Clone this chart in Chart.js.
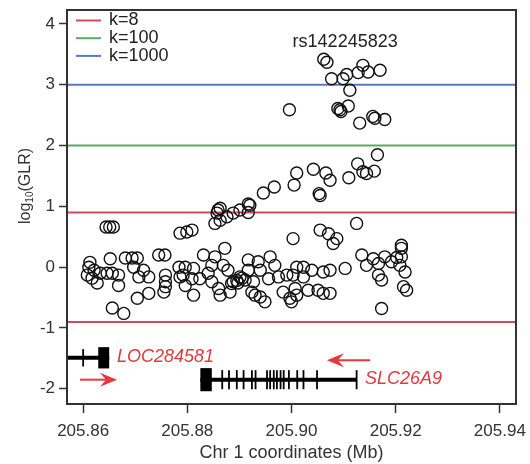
<!DOCTYPE html>
<html>
<head>
<meta charset="utf-8">
<script src="https://cdn.jsdelivr.net/npm/chart.js@4.4.1/dist/chart.umd.min.js"></script>
<style>
  html, body { margin: 0; padding: 0; background: #fff; }
</style>
</head>
<body>
<canvas id="glrChart" width="530" height="464"></canvas>
<script>
// SNP position on chr 1 (Mb) and log10(GLR)
const snpPos = [
  205.9062, 205.9068, 205.9137, 205.9170, 205.9147, 205.9128, 205.9106, 205.9077, 205.9099, 205.9112,
  205.8996, 205.9093, 205.9089, 205.9095, 205.9109, 205.9131, 205.9156, 205.9160, 205.9179, 205.9165,
  205.9127, 205.9137, 205.9144, 205.9159, 205.9110, 205.9042, 205.9066, 205.9074, 205.9010, 205.9005,
  205.9053, 205.8967, 205.8946, 205.8920, 205.8857, 205.8863, 205.8876, 205.8888, 205.8901, 205.8917,
  205.8917, 205.8859, 205.8863, 205.8853, 205.8799, 205.8809, 205.8644, 205.8658, 205.8651, 205.8786,
  205.9003, 205.9055, 205.9071, 205.9087, 205.9080, 205.9125, 205.9055, 205.9135, 205.9144, 205.9157,
  205.9167, 205.9179, 205.9192, 205.9211, 205.9211, 205.9208, 205.9218, 205.9167, 205.9173, 205.9215,
  205.9221, 205.9173, 205.9103, 205.9211, 205.9202, 205.9010, 205.9023, 205.9039, 205.9061, 205.9074,
  205.9003, 205.9023, 205.9032, 205.9051, 205.9074, 205.9061, 205.9010, 205.9000, 205.8997, 205.8984,
  205.9007, 205.8831, 205.8853, 205.8872, 205.8869, 205.8796, 205.8812, 205.8792, 205.8809, 205.8824,
  205.8840, 205.8847, 205.8860, 205.8863, 205.8882, 205.8812, 205.8885, 205.8901, 205.8917, 205.8936,
  205.8959, 205.8968, 205.8917, 205.8940, 205.8927, 205.8956, 205.8975, 205.8991, 205.8924, 205.8940,
  205.8949, 205.8930, 205.8897, 205.8911, 205.8847, 205.8878, 205.8888, 205.8895, 205.8905, 205.8652,
  205.8681, 205.8694, 205.8704, 205.8745, 205.8757, 205.8611, 205.8621, 205.8608, 205.8617, 205.8627,
  205.8633, 205.8646, 205.8656, 205.8668, 205.8668, 205.8697, 205.8716, 205.8707, 205.8726, 205.8704,
  205.8726, 205.8656, 205.8678, 205.8758, 205.8758, 205.8758, 205.8755, 205.8784, 205.8786, 205.8796,
  205.8613
];
const snpGlr = [
  3.42, 3.37, 3.32, 3.24, 3.21, 3.20, 3.17, 3.10, 3.10, 2.91,
  2.59, 2.59, 2.61, 2.56, 2.65, 2.37, 2.48, 2.45, 2.43, 1.85,
  1.70, 1.57, 1.54, 1.58, 1.47, 1.61, 1.55, 1.43, 1.55, 1.35,
  1.21, 1.32, 1.22, 1.02, 0.89, 0.97, 0.83, 0.89, 0.94, 1.04,
  0.90, 0.94, 0.77, 0.72, 0.58, 0.61, 0.66, 0.66, 0.66, 0.56,
  0.47, 0.61, 0.55, 0.47, 0.39, 0.72, 1.18, 0.20, 0.03, 0.14,
  0.06, 0.17, 0.09, 0.31, 0.17, 0.03, -0.08, -0.13, -0.21, -0.32,
  -0.38, -0.68, -0.02, 0.36, 0.16, 0.00, 0.00, -0.05, -0.08, -0.05,
  -0.13, -0.16, -0.38, -0.38, -0.43, -0.43, -0.46, -0.57, -0.51, -0.41,
  -0.35, 0.20, 0.17, 0.31, 0.03, 0.00, -0.02, -0.13, -0.19, -0.19,
  -0.10, -0.24, -0.35, -0.46, -0.41, -0.46, -0.27, -0.16, 0.12, 0.09,
  0.17, 0.03, -0.05, -0.05, -0.24, -0.19, -0.16, -0.13, -0.41, -0.49,
  -0.57, -0.46, -0.26, -0.21, 0.03, -0.05, -0.24, -0.22, -0.18, 0.14,
  0.15, 0.15, 0.15, 0.20, 0.20, 0.00, -0.05, -0.13, -0.18, -0.26,
  -0.10, -0.10, -0.10, -0.13, -0.30, 0.00, -0.05, -0.16, -0.16, -0.51,
  -0.43, -0.67, -0.76, -0.13, -0.24, -0.32, -0.41, 0.00, -0.16, -0.30,
  0.08
];

const xTicks = [205.86, 205.88, 205.90, 205.92, 205.94];
const yTicks = [-2, -1, 0, 1, 2, 3, 4];
const xMin = 205.8569, xMax = 205.9431;
const yMin = -2.25, yMax = 4.23;

// significance thresholds: log10(k)
const kLabels = ['k=8', 'k=100', 'k=1000'];
const kValues = [0.9, 2, 3];
const kColors = ['#cf4a5e', '#5fa765', '#5577cc'];

const topSnp = 'rs142245823';
const topSnpAt = [205.9103, 3.70];

// gene models
const geneNames = ['LOC284581', 'SLC26A9'];
const geneFrom = [205.8569, 205.8825];
const geneTo = [205.8650, 205.9125];
const geneRow = [-1.49, -1.85];
const geneBlocks = [[205.8629, 205.8650], [205.8825, 205.8847]];
const geneExons = [
  [205.8600],
  [205.8867, 205.8880, 205.8895, 205.8908, 205.8924, 205.8931, 205.8953, 205.8959, 205.8966,
   205.8972, 205.8979, 205.8985, 205.8995, 205.9011, 205.9023, 205.9049, 205.9125]
];
const geneHalf = [0.175, 0.19];
const arrowFrom = [205.8594, 205.9151];
const arrowTo = [205.8665, 205.9068];
const arrowY = [-1.85, -1.53];
const labelAt = [[205.8665, -1.48], [205.9141, -1.84]];

const FONT = "'Liberation Sans', Arial, sans-serif";
const RED = '#e23a3f';

const thresholdSets = [];
[kValues[0], -kValues[0], kValues[1], kValues[2]].forEach((v, i) => {
  const c = i < 2 ? kColors[0] : kColors[i - 1];
  thresholdSets.push({
    data: [{ x: xMin, y: v }, { x: xMax, y: v }],
    showLine: true, borderColor: c, borderWidth: 2, pointRadius: 0
  });
});

const decorations = {
  id: 'decorations',
  afterDatasetsDraw(chart) {
    const ctx = chart.ctx, xs = chart.scales.x, ys = chart.scales.y;
    const area = chart.chartArea;
    ctx.save();
    // gene models
    ctx.strokeStyle = '#000';
    ctx.fillStyle = '#000';
    for (let g = 0; g < geneNames.length; g++) {
      const yc = ys.getPixelForValue(geneRow[g]);
      const yt = ys.getPixelForValue(geneRow[g] + geneHalf[g]);
      const yb = ys.getPixelForValue(geneRow[g] - geneHalf[g]);
      ctx.lineWidth = 4;
      ctx.beginPath();
      ctx.moveTo(Math.max(area.left, xs.getPixelForValue(geneFrom[g])), yc);
      ctx.lineTo(xs.getPixelForValue(geneTo[g]), yc);
      ctx.stroke();
      ctx.lineWidth = 1.8;
      geneExons[g].forEach(e => {
        const px = xs.getPixelForValue(e);
        ctx.beginPath();
        ctx.moveTo(px, yt + 2);
        ctx.lineTo(px, yb - 2);
        ctx.stroke();
      });
      const b0 = xs.getPixelForValue(geneBlocks[g][0]);
      const b1 = xs.getPixelForValue(geneBlocks[g][1]);
      ctx.fillRect(b0, yt, b1 - b0, yb - yt);
    }
    // strand arrows
    ctx.strokeStyle = RED;
    ctx.fillStyle = RED;
    for (let g = 0; g < arrowFrom.length; g++) {
      const x0 = xs.getPixelForValue(arrowFrom[g]);
      const x1 = xs.getPixelForValue(arrowTo[g]);
      const y = ys.getPixelForValue(arrowY[g]);
      const dir = Math.sign(x1 - x0);
      ctx.lineWidth = 2;
      ctx.beginPath();
      ctx.moveTo(x0, y);
      ctx.lineTo(x1 - dir * 6, y);
      ctx.stroke();
      ctx.beginPath();
      ctx.moveTo(x1, y);
      ctx.lineTo(x1 - dir * 17, y - 7);
      ctx.lineTo(x1 - dir * 11, y);
      ctx.lineTo(x1 - dir * 17, y + 7);
      ctx.closePath();
      ctx.fill();
    }
    // gene names
    ctx.font = 'italic 18px ' + FONT;
    ctx.textBaseline = 'middle';
    ctx.textAlign = 'left';
    for (let g = 0; g < geneNames.length; g++) {
      ctx.fillText(geneNames[g], xs.getPixelForValue(labelAt[g][0]), ys.getPixelForValue(labelAt[g][1]));
    }
    // top SNP label
    ctx.fillStyle = '#222';
    ctx.font = '18px ' + FONT;
    ctx.textAlign = 'center';
    ctx.fillText(topSnp, xs.getPixelForValue(topSnpAt[0]), ys.getPixelForValue(topSnpAt[1]));
    // legend
    ctx.textAlign = 'left';
    kLabels.forEach((lab, i) => {
      const y = area.top + 10.5 + i * 17.7;
      ctx.strokeStyle = kColors[i];
      ctx.lineWidth = 2;
      ctx.beginPath();
      ctx.moveTo(area.left + 9, y);
      ctx.lineTo(area.left + 34, y);
      ctx.stroke();
      ctx.fillStyle = '#222';
      ctx.fillText(lab, area.left + 42, y);
    });
    ctx.restore();
  },
  afterDraw(chart) {
    const ctx = chart.ctx, a = chart.chartArea;
    ctx.save();
    ctx.strokeStyle = '#333';
    ctx.lineWidth = 2;
    ctx.strokeRect(a.left, a.top, a.right - a.left, a.bottom - a.top);
    // y-axis title with subscript
    ctx.translate(26, 186);
    ctx.rotate(-Math.PI / 2);
    ctx.fillStyle = '#333';
    ctx.textBaseline = 'middle';
    ctx.textAlign = 'left';
    const big = '16px ' + FONT, small = '10px ' + FONT;
    ctx.font = big; const w1 = ctx.measureText('log').width, w3 = ctx.measureText('(GLR)').width;
    ctx.font = small; const w2 = ctx.measureText('10').width;
    let x = -(w1 + w2 + w3) / 2;
    ctx.font = big; ctx.fillText('log', x, 0); x += w1;
    ctx.font = small; ctx.fillText('10', x, 4); x += w2;
    ctx.font = big; ctx.fillText('(GLR)', x, 0);
    ctx.restore();
  }
};

new Chart(document.getElementById('glrChart'), {
  type: 'scatter',
  data: {
    datasets: [{
      data: snpPos.map((p, i) => ({ x: p, y: snpGlr[i] })),
      pointStyle: 'circle',
      pointRadius: 6,
      borderWidth: 1.4,
      borderColor: '#111',
      backgroundColor: 'rgba(0,0,0,0)'
    }].concat(thresholdSets)
  },
  options: {
    responsive: false,
    animation: false,
    events: [],
    layout: { padding: { top: 10, right: 14, left: 0, bottom: 0 } },
    plugins: { legend: { display: false }, tooltip: { enabled: false } },
    scales: {
      x: {
        type: 'linear', min: xMin, max: xMax,
        afterBuildTicks: s => { s.ticks = xTicks.map(v => ({ value: v })); },
        afterFit: s => { s.height = 60; s.paddingLeft = 0; s.paddingRight = 0; },
        grid: { drawOnChartArea: false, drawTicks: true, tickLength: 9, tickColor: '#333', tickWidth: 1.5 },
        border: { display: false },
        ticks: { color: '#333', font: { family: FONT, size: 17 }, padding: 8, maxRotation: 0,
                 callback: v => v.toFixed(2) },
        title: { display: true, text: 'Chr 1 coordinates (Mb)', color: '#333',
                 font: { family: FONT, size: 18 }, padding: { top: 0, bottom: 0 } }
      },
      y: {
        type: 'linear', min: yMin, max: yMax,
        afterBuildTicks: s => { s.ticks = yTicks.map(v => ({ value: v })); },
        afterFit: s => { s.width = 67; s.paddingTop = 0; s.paddingBottom = 0; },
        grid: { drawOnChartArea: false, drawTicks: true, tickLength: 8, tickColor: '#333', tickWidth: 1.5 },
        border: { display: false },
        ticks: { color: '#333', font: { family: FONT, size: 17 }, padding: 4 }
      }
    }
  },
  plugins: [decorations]
});
</script>
</body>
</html>
